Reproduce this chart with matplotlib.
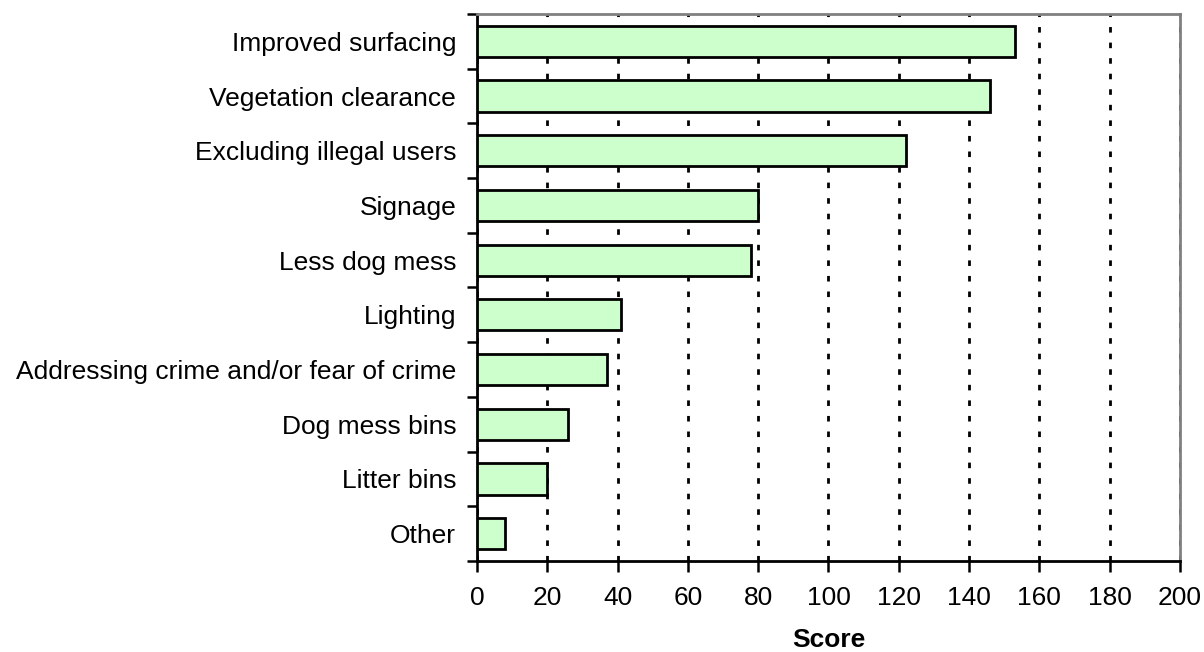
import matplotlib.pyplot as plt
import numpy as np

plt.rcParams['font.family'] = ['Liberation Sans', 'DejaVu Sans']

categories = ['Improved surfacing', 'Vegetation clearance', 'Excluding illegal users',
              'Signage', 'Less dog mess', 'Lighting',
              'Addressing crime and/or fear of crime', 'Dog mess bins',
              'Litter bins', 'Other']
scores = [153, 146, 122, 80, 78, 41, 37, 26, 20, 8]
xticks = list(range(0, 201, 20))

fig = plt.figure(figsize=(12.04, 6.52), dpi=100)
ax = fig.add_axes([0.3962, 0.1396, 0.5838, 0.8389])

n = len(categories)
ypos = np.arange(n)[::-1]
ax.set_axisbelow(True)
ax.xaxis.grid(True, color='black', linestyle=(0, (2.0, 3.6)), linewidth=2.0)
ax.barh(ypos, scores, height=0.57, color='#CCFFCC', edgecolor='black', linewidth=2.0, zorder=3)

ax.set_xlim(0, 200)
ax.set_ylim(-0.5, n - 0.5)
ax.set_xticks(xticks)
ax.set_yticks(ypos)
ax.set_yticklabels(categories)
ax.set_yticks(np.arange(-0.5, n, 1.0), minor=True)
ax.tick_params(axis='y', which='major', length=0, pad=15, labelsize=19)
ax.tick_params(axis='y', which='minor', length=7, width=1.8, direction='out')
ax.tick_params(axis='x', length=8, width=1.8, direction='out', labelsize=19, pad=10)

for side in ['left', 'bottom']:
    ax.spines[side].set_linewidth(2.0)
    ax.spines[side].set_color('black')
for side in ['top', 'right']:
    ax.spines[side].set_linewidth(2.0)
    ax.spines[side].set_color('#808080')

ax.set_xlabel('Score', fontsize=19, fontweight='bold', labelpad=13)

fig.savefig('out.png', dpi=100)
